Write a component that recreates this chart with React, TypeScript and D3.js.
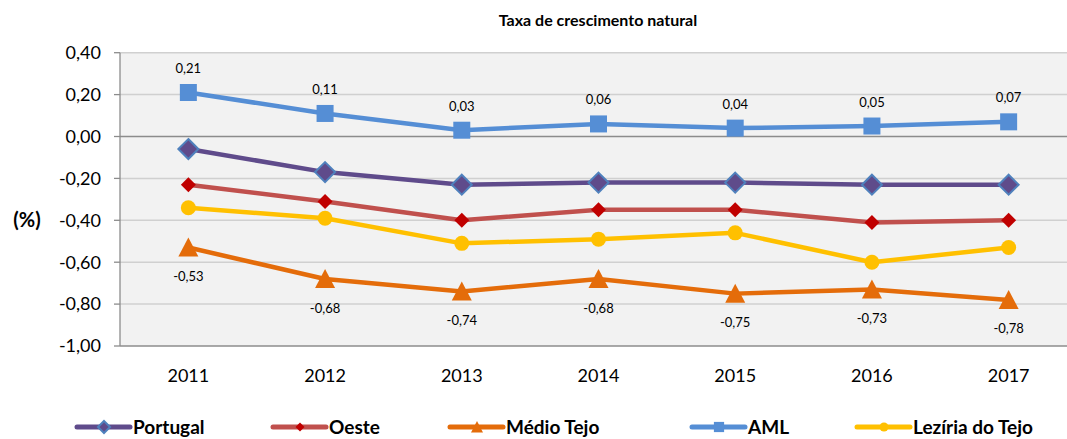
import React from 'react';
import * as d3 from 'd3';

const years = ['2011', '2012', '2013', '2014', '2015', '2016', '2017'];
const portugal = [-0.06, -0.17, -0.23, -0.22, -0.22, -0.23, -0.23];
const oeste = [-0.23, -0.31, -0.4, -0.35, -0.35, -0.41, -0.4];
const medioTejo = [-0.53, -0.68, -0.74, -0.68, -0.75, -0.73, -0.78];
const aml = [0.21, 0.11, 0.03, 0.06, 0.04, 0.05, 0.07];
const leziria = [-0.34, -0.39, -0.51, -0.49, -0.46, -0.6, -0.53];
const yTicks = [0.4, 0.2, 0, -0.2, -0.4, -0.6, -0.8, -1.0];

const FONT = 'Lato, "Open Sans", sans-serif';

type Series = {
  name: string;
  values: number[];
  line: string;
  fill: string;
  stroke?: string;
  marker: 'diamond' | 'smallDiamond' | 'triangle' | 'square' | 'circle';
  labels?: 'above' | 'below';
};

const series: Series[] = [
  { name: 'Portugal', values: portugal, line: '#5f4b8b', fill: '#5f4b8b', stroke: '#4f81bd', marker: 'diamond' },
  { name: 'Oeste', values: oeste, line: '#c0504d', fill: '#c00000', marker: 'smallDiamond' },
  { name: 'Médio Tejo', values: medioTejo, line: '#e46c0a', fill: '#e46c0a', marker: 'triangle', labels: 'below' },
  { name: 'AML', values: aml, line: '#558ed5', fill: '#558ed5', marker: 'square', labels: 'above' },
  { name: 'Lezíria do Tejo', values: leziria, line: '#ffc000', fill: '#ffc000', marker: 'circle' },
];

const fmt = (v: number) => v.toFixed(2).replace('.', ',');

function Marker({ s, x, y, scale = 1 }: { s: Series; x: number; y: number; scale?: number }) {
  const k = scale;
  switch (s.marker) {
    case 'diamond': {
      const r = 10 * k;
      return (
        <path
          d={`M${x},${y - r}L${x + r},${y}L${x},${y + r}L${x - r},${y}Z`}
          fill={s.fill}
          stroke={s.stroke}
          strokeWidth={2}
        />
      );
    }
    case 'smallDiamond': {
      const r = 7.5 * k;
      return <path d={`M${x},${y - r}L${x + r},${y}L${x},${y + r}L${x - r},${y}Z`} fill={s.fill} />;
    }
    case 'triangle': {
      const r = 10 * k;
      return <path d={`M${x},${y - r}L${x + r},${y + r * 0.9}L${x - r},${y + r * 0.9}Z`} fill={s.fill} />;
    }
    case 'square': {
      const r = 8.5 * k;
      return <rect x={x - r} y={y - r} width={2 * r} height={2 * r} fill={s.fill} />;
    }
    default:
      return <circle cx={x} cy={y} r={7.5 * k} fill={s.fill} />;
  }
}

export default function App() {
  const width = 1067;
  const height = 439;
  const left = 120;
  const right = 1077;
  const top = 52.7;
  const bottom = 346;

  const x = d3.scalePoint<string>().domain(years).range([left, right]).padding(0.5);
  const y = d3.scaleLinear().domain([-1, 0.4]).range([bottom, top]);
  const line = d3
    .line<number>()
    .x((_, i) => x(years[i]) as number)
    .y((d) => y(d));

  const legendItems = [
    { x: 77, s: series[0] },
    { x: 273, s: series[1] },
    { x: 450, s: series[2] },
    { x: 692, s: series[3] },
    { x: 857, s: series[4] },
  ];
  const legendY = 427;

  return (
    <svg
      width={width}
      height={height}
      style={{ position: 'absolute', left: 0, top: 0, background: '#fff' }}
      fontFamily={FONT}
    >
      <rect x={left} y={top} width={right - left} height={bottom - top} fill="#f2f2f2" />
      {yTicks.map((t) => (
        <g key={t}>
          <line
            x1={left}
            x2={right}
            y1={y(t)}
            y2={y(t)}
            stroke={t === 0 || t === -1 ? '#8c8c8c' : '#d0d0d0'}
            strokeWidth={t === 0 || t === -1 ? 1.3 : 1.5}
          />
          <line x1={left - 6} x2={left} y1={y(t)} y2={y(t)} stroke="#8c8c8c" strokeWidth={1.3} />
          <text x={101} y={y(t)} dy="0.35em" textAnchor="end" fontSize={18} fill="#000">
            {fmt(t)}
          </text>
        </g>
      ))}
      <line x1={left} x2={left} y1={top} y2={bottom} stroke="#8c8c8c" strokeWidth={1.3} />
      {years.map((yr) => (
        <text key={yr} x={x(yr)} y={382} textAnchor="middle" fontSize={18} fill="#000">
          {yr}
        </text>
      ))}
      <text x={598} y={26} textAnchor="middle" fontSize={16} fontWeight="bold" fill="#000">
        Taxa de crescimento natural
      </text>
      <text x={27} y={220} dy="0.35em" textAnchor="middle" fontSize={20} fontWeight="bold" fill="#000">
        (%)
      </text>

      {series.map((s) => (
        <g key={s.name}>
          <path d={line(s.values) || ''} fill="none" stroke={s.line} strokeWidth={4.5} strokeLinejoin="round" />
          {s.values.map((v, i) => (
            <Marker key={i} s={s} x={x(years[i]) as number} y={y(v)} />
          ))}
          {s.labels &&
            s.values.map((v, i) => (
              <text
                key={'l' + i}
                x={x(years[i]) as number}
                y={y(v) + (s.labels === 'above' ? -24 : 29)}
                dy="0.35em"
                textAnchor="middle"
                fontSize={13}
                fill="#000"
              >
                {fmt(v)}
              </text>
            ))}
        </g>
      ))}

      {legendItems.map(({ x: lx, s }) => (
        <g key={s.name}>
          <line x1={lx} x2={lx + 53} y1={legendY} y2={legendY} stroke={s.line} strokeWidth={5} strokeLinecap="round" />
          <Marker s={s} x={lx + 27} y={legendY} scale={0.6} />
          <text x={lx + 56} y={legendY} dy="0.35em" fontSize={19} fontWeight="bold" fill="#000">
            {s.name}
          </text>
        </g>
      ))}
    </svg>
  );
}
